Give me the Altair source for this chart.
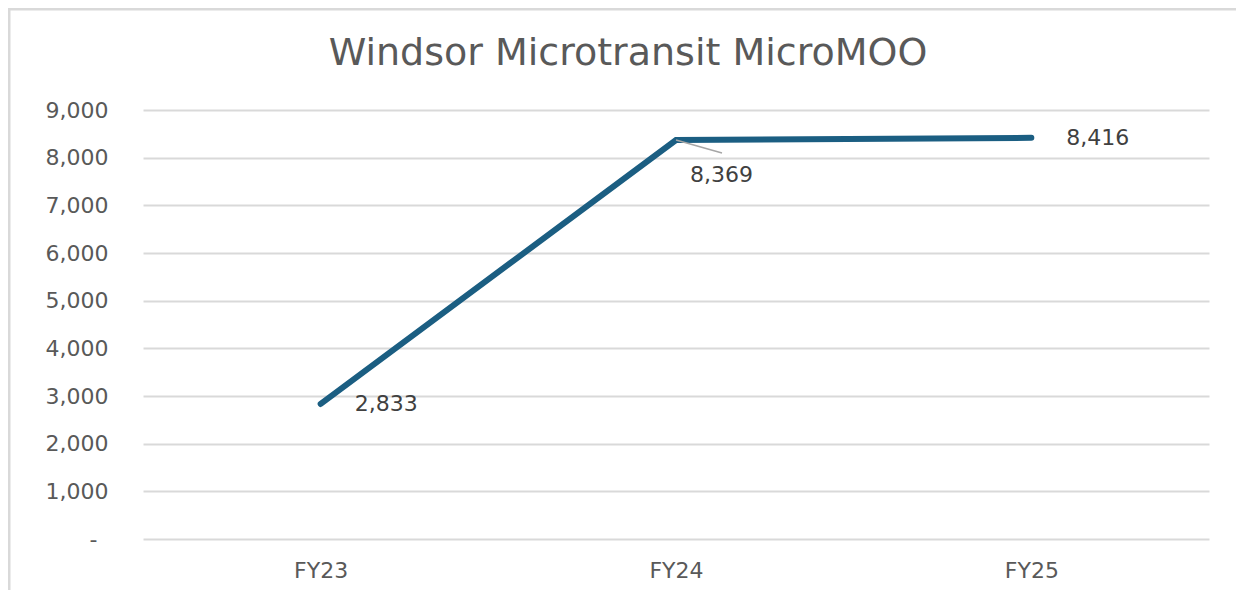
import altair as alt
import pandas as pd

categories = ["FY23", "FY24", "FY25"]
riders = [2833, 8369, 8416]
y_ticks = [0, 1000, 2000, 3000, 4000, 5000, 6000, 7000, 8000, 9000]
title_text = "Windsor Microtransit MicroMOO"

df = pd.DataFrame({"fy": categories, "riders": riders})
one = pd.DataFrame({"k": [0]})

W, H = 1066, 429
PAD_L, PAD_T, PAD_R, PAD_B = 135, 102, 27, 51
GRAY = "#595959"
LINE = "#1b5e82"
FONT = "DejaVu Sans"

xscale = alt.Scale(type="point", padding=0.5)

x_enc = alt.X(
    "fy:N", sort=categories, scale=xscale,
    axis=alt.Axis(title=None, labelAngle=0, ticks=False, domain=False, grid=False,
                  labelPadding=21, labelFontSize=22, labelFont=FONT, labelColor=GRAY),
)
y_enc = alt.Y(
    "riders:Q", scale=alt.Scale(domain=[0, 9000], nice=False),
    axis=alt.Axis(title=None, values=y_ticks, ticks=False, domain=False,
                  labelExpr="datum.value == 0 ? '-' : format(datum.value, ',')",
                  labelPadding={"condition": {"test": "datum.value == 0", "value": 46}, "value": 35},
                  labelFontSize=22, labelFont=FONT, labelColor=GRAY,
                  gridColor="#d9d9d9", gridWidth=2),
)

base = alt.Chart(df)

line = base.mark_line(color=LINE, strokeWidth=6, strokeCap="round").encode(x=x_enc, y=y_enc)

def label(cat, dx, dy):
    return base.transform_filter(alt.datum.fy == cat).mark_text(
        align="left", baseline="middle", dx=dx, dy=dy, fontSize=22, font=FONT, color="#404040"
    ).encode(x=alt.X("fy:N", sort=categories, scale=xscale), y="riders:Q",
             text=alt.Text("riders:Q", format=","))

lab1 = label("FY23", 34, 0)
lab2 = label("FY24", 14, 35)
lab3 = label("FY25", 35, 0)

leader = base.transform_filter(alt.datum.fy == "FY24").mark_rule(color="#a6a6a6", strokeWidth=1.5).encode(
    x=alt.X("fy:N", sort=categories, scale=xscale), y="riders:Q", x2=alt.value(579), y2=alt.value(43)
)

border_left = alt.Chart(one).mark_rule(color="#d9d9d9", strokeWidth=2.5).encode(
    x=alt.value(-133.75), y=alt.value(-PAD_T), y2=alt.value(H + PAD_B)
)
border_top = alt.Chart(one).mark_rule(color="#d9d9d9", strokeWidth=2.5).encode(
    x=alt.value(-PAD_L), x2=alt.value(W + PAD_R), y=alt.value(-100.75)
)

chart = alt.layer(border_left, border_top, line, leader, lab1, lab2, lab3).properties(
    width=W, height=H,
    title=alt.Title(title_text, fontSize=38, font=FONT, fontWeight="normal", color=GRAY,
                    anchor="middle", dx=-48, dy=96, offset=0, baseline="alphabetic"),
    autosize=alt.AutoSizeParams(type="none"),
    padding={"left": PAD_L, "top": PAD_T, "right": PAD_R, "bottom": PAD_B},
).configure_view(stroke=None)

chart.save("out.html", embed_options={"renderer": "svg", "actions": False})
